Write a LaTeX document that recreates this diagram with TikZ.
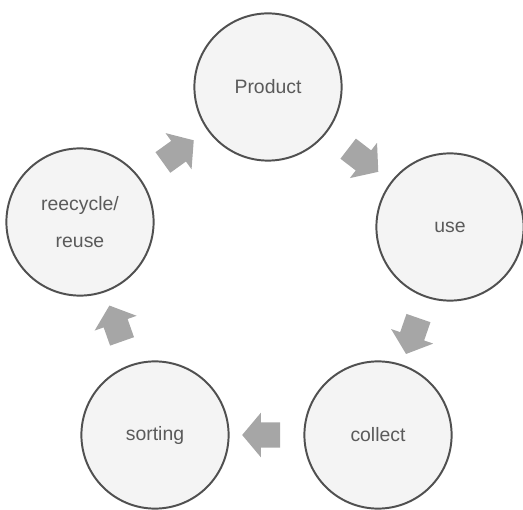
\documentclass[tikz,border=0pt]{standalone}
\usepackage{fontspec}
\setmainfont{Liberation Sans}
\usetikzlibrary{shapes.arrows}
\definecolor{ringline}{HTML}{505050}
\definecolor{ringfill}{HTML}{F4F4F4}
\definecolor{blockgray}{HTML}{A6A6A6}
\definecolor{labelgray}{HTML}{5A5A5A}
\begin{document}
\begin{tikzpicture}[font=\fontsize{13.8}{26}\selectfont,
 stage/.style={circle,draw=ringline,line width=1.4pt,fill=ringfill,minimum size=3.68cm,align=center,text=labelgray},
 blockarr/.style={single arrow,fill=blockgray,draw=none,inner sep=0.31cm,minimum height=0.95cm,
  single arrow head extend=0.24cm,single arrow tip angle=100,sloped,allow upside down}]
\useasboundingbox (0,0) rectangle (13.075,12.725);
\node[stage] (product) at (6.70,10.55) {Product};
\node[stage] (use) at (11.25,7.05) {use};
\node[stage] (collect) at (9.45,1.85) {collect};
\node[stage] (sorting) at (3.875,1.85) {sorting};
\node[stage] (recycle) at (2.0,7.175) {reecycle/\\reuse};
\path (recycle) -- node[blockarr] (a1) {} (product);
\path (product) -- node[blockarr] (a2) {} (use);
\path (use) -- node[blockarr] (a3) {} (collect);
\path (collect) -- node[blockarr] (a4) {} (sorting);
\path (sorting) -- node[blockarr] (a5) {} (recycle);
\end{tikzpicture}
\end{document}
